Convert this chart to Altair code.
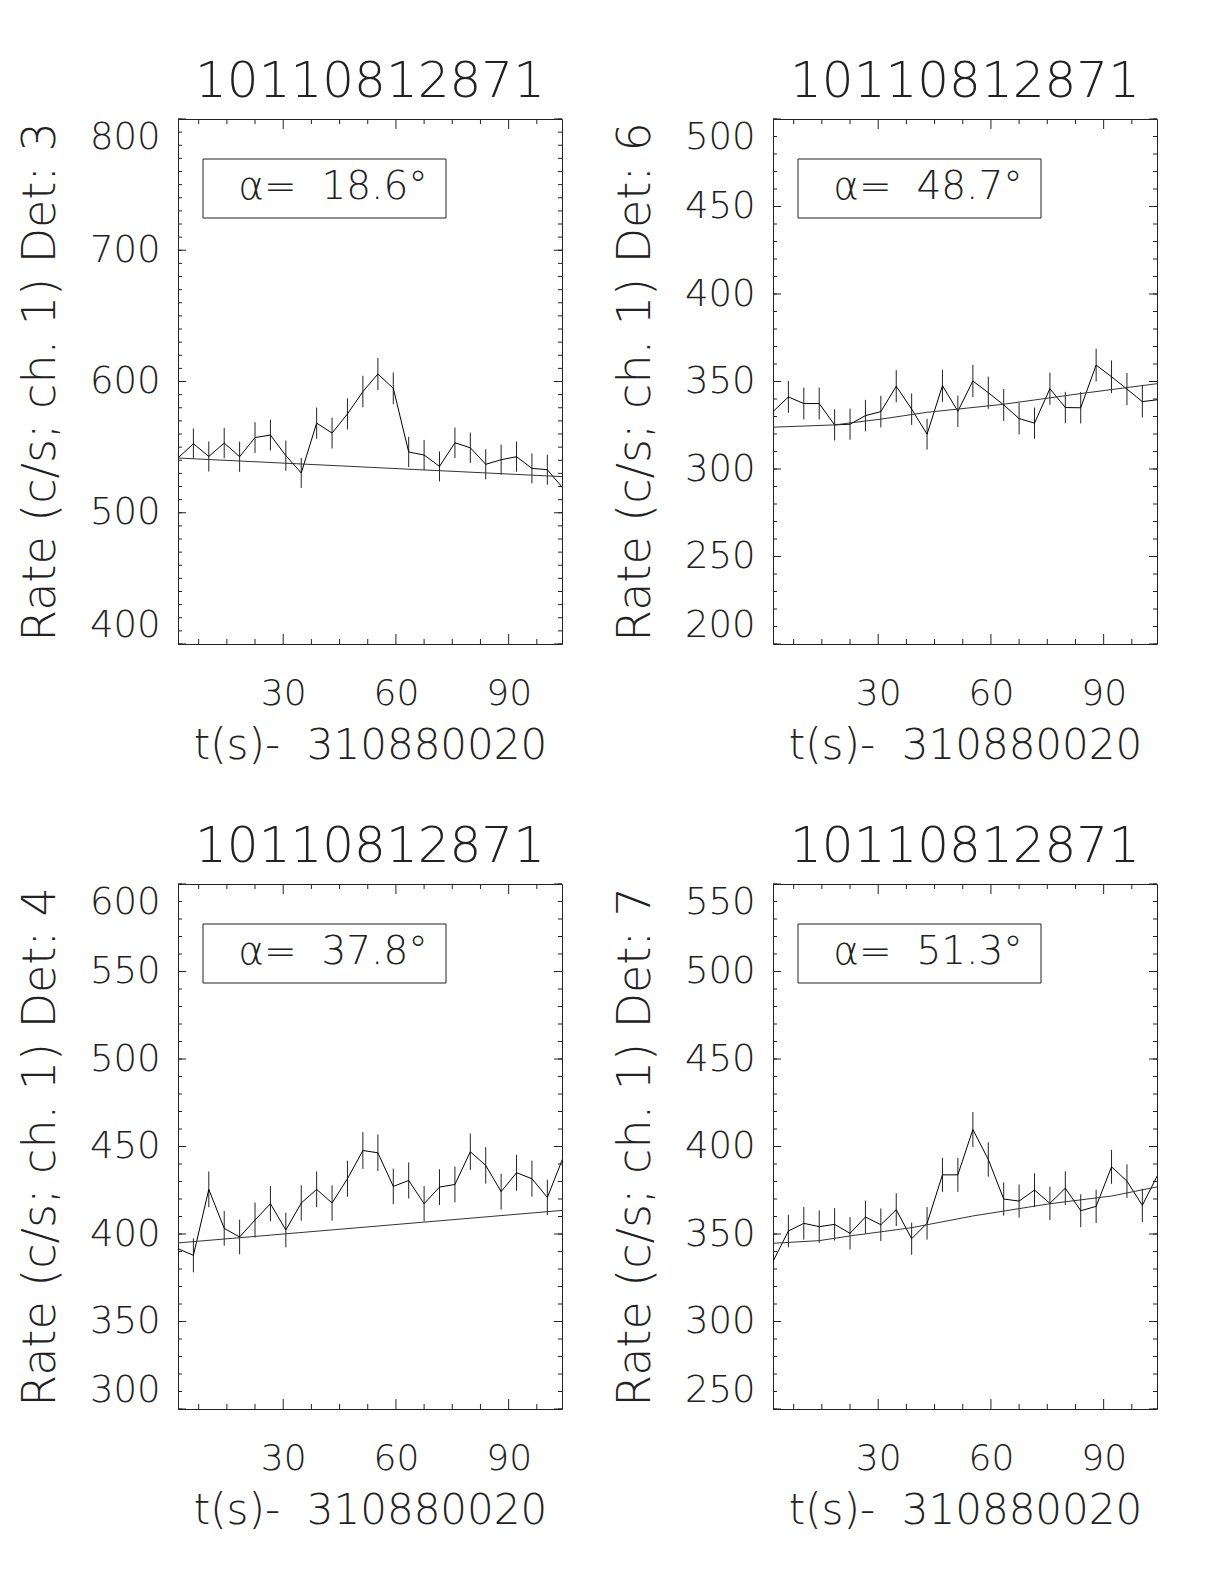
import altair as alt
import pandas as pd

FONT = "DejaVu Sans"
FW = 200
INK = "#222222"
NB = "\u00a0"

OBS_ID = "10110812871"
X_TITLE = "t(s)-" + NB + NB + "310880020"
X_DOMAIN = [2.0, 104.2]
X_LABELS = [30, 60, 90]
X_MINOR = [7.5, 15, 22.5, 37.5, 45, 52.5, 67.5, 75, 82.5, 97.5]

times = [2.0, 6.1, 10.2, 14.3, 18.4, 22.5, 26.6, 30.7, 34.8, 38.9, 43.0, 47.1, 51.2,
         55.2, 59.3, 63.4, 67.5, 71.6, 75.7, 79.8, 83.9, 88.0, 92.1, 96.2, 100.3, 104.4]

# Det 3
rate1 = [541.7, 552.6, 542.9, 553.1, 542.7, 557.3, 559.2, 543.5, 530.3, 568.3, 560.7, 575.3, 592.3,
         605.7, 594.8, 546.3, 544.0, 535.3, 553.3, 549.5, 536.9, 540.4, 542.7, 533.8, 532.8, 518.9]
err1 = [11.5, 11.6, 11.5, 11.6, 11.5, 11.7, 11.7, 11.5, 11.4, 11.8, 11.7, 11.9, 12.0,
        12.2, 12.1, 11.5, 11.5, 11.4, 11.6, 11.6, 11.5, 11.5, 11.5, 11.4, 11.4, 11.3]
fit1_t = [2.0, 104.4]
fit1_v = [541.7, 527.5]

# Det 6
rate2 = [332.8, 341.2, 337.4, 337.4, 325.2, 325.6, 330.5, 332.8, 347.3, 334.2, 319.9, 347.6, 333.0,
         350.3, 343.6, 336.6, 328.8, 326.2, 345.9, 335.1, 335.0, 359.4, 352.7, 345.7, 338.5, 339.6]
err2 = [9.0, 9.1, 9.1, 9.1, 8.9, 8.9, 9.0, 9.0, 9.2, 9.0, 8.8, 9.2, 9.0,
        9.2, 9.2, 9.1, 9.0, 8.9, 9.2, 9.0, 9.0, 9.4, 9.3, 9.2, 9.1, 9.1]
fit2_t = [2.0, 18.4, 30.7, 43.0, 63.4, 83.9, 104.4]
fit2_v = [323.9, 325.2, 328.5, 332.4, 337.0, 343.1, 348.8]

# Det 4
rate3 = [391.6, 387.8, 425.5, 403.2, 398.3, 408.0, 417.3, 402.3, 417.7, 425.5, 417.7, 431.6, 447.7,
         446.4, 427.2, 430.6, 417.3, 426.8, 428.3, 447.0, 439.2, 424.2, 435.0, 431.6, 420.9, 443.2]
err3 = [9.8, 9.7, 10.2, 9.9, 9.9, 10.0, 10.1, 9.9, 10.1, 10.2, 10.1, 10.3, 10.5,
        10.4, 10.2, 10.3, 10.1, 10.2, 10.2, 10.4, 10.4, 10.2, 10.3, 10.3, 10.1, 10.4]
fit3_t = [2.0, 104.4]
fit3_v = [394.9, 413.5]

# Det 7
rate4 = [334.3, 351.7, 356.1, 354.2, 355.5, 350.4, 359.7, 355.3, 363.9, 347.3, 356.1, 383.8, 383.8,
         409.7, 392.6, 370.0, 368.8, 375.1, 367.5, 376.2, 363.3, 365.8, 388.4, 380.2, 366.4, 383.8]
err4 = [9.1, 9.3, 9.3, 9.3, 9.3, 9.2, 9.4, 9.3, 9.4, 9.2, 9.3, 9.7, 9.7,
        10.0, 9.8, 9.5, 9.5, 9.6, 9.5, 9.6, 9.4, 9.5, 9.7, 9.6, 9.5, 9.7]
fit4_t = [2.0, 14.3, 22.5, 38.9, 55.2, 75.7, 92.1, 104.4]
fit4_v = [344.7, 346.2, 348.9, 353.6, 360.3, 367.3, 371.7, 377.0]

W, H = 384, 525


def panel(rates, errs, fit_t, fit_v, ydom, ylabels, ystep, det, alpha_val):
    xs = alt.Scale(domain=X_DOMAIN, nice=False, zero=False)
    ys = alt.Scale(domain=ydom, nice=False, zero=False)
    xaxis = alt.Axis(values=X_LABELS, title=X_TITLE, domain=False, ticks=False, grid=False,
                     labelFont=FONT, titleFont=FONT, labelFontWeight=FW, titleFontWeight=FW,
                     labelFontSize=36, titleFontSize=42, labelPadding=32, titlePadding=14,
                     labelColor=INK, titleColor=INK)
    yaxis = alt.Axis(values=ylabels, title=f"Rate (c/s; ch. 1) Det: {det}", domain=False,
                     ticks=False, grid=False, labelFlush=True,
                     labelFont=FONT, titleFont=FONT, labelFontWeight=FW, titleFontWeight=FW,
                     labelFontSize=37, titleFontSize=46,
                     labelPadding=18, titlePadding=25, labelColor=INK, titleColor=INK)
    X = lambda f: alt.X(f, scale=xs, axis=xaxis)
    Y = lambda f: alt.Y(f, scale=ys, axis=yaxis)

    df = pd.DataFrame({"t": times, "r": rates, "e": errs})
    base = alt.Chart(df)
    errbars = base.transform_calculate(lo="datum.r - datum.e", hi="datum.r + datum.e").mark_rule(
        color=INK, strokeWidth=1, clip=True).encode(x=X("t:Q"), y=Y("lo:Q"), y2="hi:Q")
    line = base.mark_line(color="#000000", strokeWidth=1, clip=True).encode(x=X("t:Q"), y=Y("r:Q"))
    fit = alt.Chart(pd.DataFrame({"t": fit_t, "f": fit_v})).mark_line(
        color="#333333", strokeWidth=1, clip=True).encode(x=X("t:Q"), y=Y("f:Q"))

    ymaj = pd.DataFrame({"v": ylabels})
    ymin = pd.DataFrame({"v": list(range(ydom[0], ydom[1] + 1, ystep))})
    xmaj = pd.DataFrame({"v": X_LABELS})
    xmin = pd.DataFrame({"v": X_MINOR})
    tk = dict(color=INK, strokeWidth=1)
    ticks = [
        alt.Chart(ymaj).mark_rule(**tk).encode(y=Y("v:Q"), x=alt.value(0), x2=alt.value(8)),
        alt.Chart(ymaj).mark_rule(**tk).encode(y=Y("v:Q"), x=alt.value(W), x2=alt.value(W - 8)),
        alt.Chart(ymin).mark_rule(**tk).encode(y=Y("v:Q"), x=alt.value(0), x2=alt.value(4)),
        alt.Chart(ymin).mark_rule(**tk).encode(y=Y("v:Q"), x=alt.value(W), x2=alt.value(W - 4)),
        alt.Chart(xmaj).mark_rule(**tk).encode(x=X("v:Q"), y=alt.value(H), y2=alt.value(H - 10)),
        alt.Chart(xmaj).mark_rule(**tk).encode(x=X("v:Q"), y=alt.value(0), y2=alt.value(10)),
        alt.Chart(xmin).mark_rule(**tk).encode(x=X("v:Q"), y=alt.value(H), y2=alt.value(H - 5)),
        alt.Chart(xmin).mark_rule(**tk).encode(x=X("v:Q"), y=alt.value(0), y2=alt.value(5)),
    ]

    alpha_txt = "α=" + NB + NB + alpha_val + "°"
    lab = alt.Chart(pd.DataFrame({"a": [alpha_txt]}))
    box = lab.mark_rect(fillOpacity=0, stroke=INK, strokeWidth=1).encode(
        x=alt.value(25), x2=alt.value(268), y=alt.value(40), y2=alt.value(99))
    txt = lab.mark_text(font=FONT, fontWeight=FW, fontSize=39, color=INK, align="center",
                        baseline="middle").encode(x=alt.value(155), y=alt.value(68), text="a:N")

    return alt.layer(errbars, line, fit, *ticks, box, txt).properties(
        width=W, height=H,
        title=alt.TitleParams(OBS_ID, fontSize=50, font=FONT, fontWeight=FW, color=INK,
                              offset=-29, baseline="alphabetic"))


p1 = panel(rate1, err1, fit1_t, fit1_v, [400, 800], [400, 500, 600, 700, 800], 10, 3, "18.6")
p2 = panel(rate2, err2, fit2_t, fit2_v, [200, 500], [200, 250, 300, 350, 400, 450, 500], 10, 6, "48.7")
p3 = panel(rate3, err3, fit3_t, fit3_v, [300, 600], [300, 350, 400, 450, 500, 550, 600], 10, 4, "37.8")
p4 = panel(rate4, err4, fit4_t, fit4_v, [250, 550], [250, 300, 350, 400, 450, 500, 550], 10, 7, "51.3")

chart = alt.concat(
    p1, p2, p3, p4, columns=2, spacing={"row": 240, "column": 211}, bounds="flush"
).properties(
    padding={"left": 8, "top": 48, "right": 5, "bottom": 5}
).configure_view(stroke=INK, strokeWidth=1)

chart.save("out.html", embed_options={"renderer": "svg", "actions": False})
